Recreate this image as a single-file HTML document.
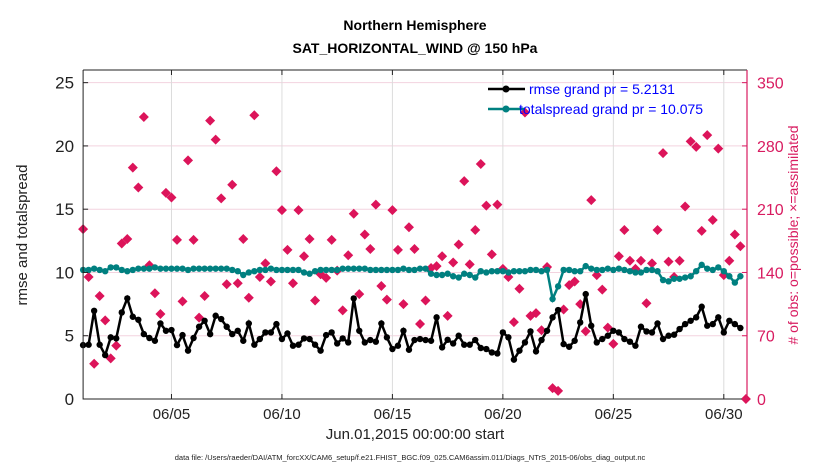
<!DOCTYPE html>
<html><head><meta charset="utf-8"><style>
body{margin:0;background:#fff;}
svg{display:block;font-family:"Liberation Sans",Arial,sans-serif;}
</style></head><body>
<svg id="chart" width="830" height="470">
<text x="415" y="30" text-anchor="middle" font-size="14" font-weight="bold">Northern Hemisphere</text>
<text x="415" y="53" text-anchor="middle" font-size="14" font-weight="bold">SAT_HORIZONTAL_WIND @ 150 hPa</text>
<g id="grid"></g><g id="marks"></g><g id="axes"></g>
<text x="415" y="439" text-anchor="middle" font-size="15" fill="#222">Jun.01,2015 00:00:00 start</text>
<text x="410" y="460" text-anchor="middle" font-size="7.5" fill="#222">data file: /Users/raeder/DAI/ATM_forcXX/CAM6_setup/f.e21.FHIST_BGC.f09_025.CAM6assim.011/Diags_NTrS_2015-06/obs_diag_output.nc</text>
<text transform="translate(27,235) rotate(-90)" text-anchor="middle" font-size="15" fill="#222">rmse and totalspread</text>
<text transform="translate(798,235) rotate(-90)" text-anchor="middle" font-size="14" fill="#d81b60"># of obs: o=possible; ×=assimilated</text>
<g>
<line x1="488" y1="89" x2="525" y2="89" stroke="#000" stroke-width="2.5"/>
<circle cx="506" cy="89" r="3.5" fill="#000"/>
<text x="529" y="94" font-size="14" fill="#0000ff">rmse grand pr = 5.2131</text>
<line x1="488" y1="109" x2="525" y2="109" stroke="#008080" stroke-width="2.5"/>
<circle cx="506" cy="109" r="3.5" fill="#008080"/>
<text x="519" y="114" font-size="14" fill="#0000ff">totalspread grand pr = 10.075</text>
</g>
</svg>
<script>
const rmse=[4.26,4.29,6.97,4.29,3.47,4.87,4.79,6.84,7.95,6.5,6.26,5.13,4.82,4.6,5.97,5.39,5.45,4.26,5.05,3.82,4.82,5.71,6.18,5.13,6.58,6.32,5.71,5.13,5.39,4.6,5.97,4.29,4.74,5.26,5.26,5.92,4.74,5.18,4.21,4.29,4.79,4.74,4.29,3.82,5.05,5.26,4.39,4.79,4.47,7.95,5.39,4.47,4.66,4.53,5.97,4.87,3.95,4.21,
5.39,3.89,4.66,4.74,4.66,4.6,6.45,4.08,4.68,4.39,5.0,4.29,4.29,4.66,4.03,3.95,3.68,3.6,5.26,4.87,3.11,3.82,4.47,5.34,3.76,4.66,5.39,6.45,7.03,4.34,4.13,4.6,6.05,8.29,5.79,4.47,4.74,5.0,5.39,5.26,4.74,4.53,4.21,5.71,5.34,5.26,5.97,4.74,5.0,5.08,5.53,5.92,6.18,6.45,7.29,5.79,5.92,6.45,5.26,6.18,5.92,5.61];
const spread=[10.2,10.2,10.3,10.2,10.1,10.4,10.4,10.2,10.1,10.2,10.3,10.3,10.3,10.4,10.3,10.3,10.3,10.3,10.3,10.2,10.3,10.3,10.3,10.3,10.3,10.3,10.3,10.2,10.1,9.8,10.0,10.1,10.2,10.2,10.3,10.2,10.2,10.2,10.2,10.2,10.0,9.9,10.1,10.2,10.2,10.2,10.2,10.3,10.3,10.3,10.3,10.3,10.2,10.2,10.2,10.2,10.2,10.2,10.3,10.2,10.2,10.3,10.3,9.9,9.8,9.8,9.9,9.7,9.6,9.9,9.8,9.6,10.1,10.0,10.1,10.1,10.1,10.0,10.1,10.1,10.1,10.2,10.2,10.1,10.2,7.9,8.9,10.2,10.2,10.1,10.1,10.5,10.3,10.2,10.2,10.3,10.2,10.3,10.2,10.1,10.0,10.0,10.2,10.2,10.1,9.4,9.3,9.5,9.5,9.6,9.7,10.1,10.6,10.3,10.2,10.4,10.1,9.7,9.2,9.7];
const obsCount=[188,135,39,114,87,45,59,172,177,256,234,312,148,117,94,228,223,176,108,264,176,90,114,308,287,222,127,237,128,177,112,314,135,150,130,252,209,165,128,209,158,177,109,138,134,176,142,98,159,205,116,182,166,215,125,110,209,165,105,190,166,83,109,145,147,158,92,151,171,241,149,187,260,214,160,215,144,135,85,122,317,92,95,76,146,12,9,99,126,130,105,75,220,137,121,79,61,158,187,153,144,153,106,150,187,272,152,135,153,213,285,279,186,292,198,277,137,153,182,169,0];
const xTickDays=[4,9,14,19,24,29];
const xTickLabels=["06/05","06/10","06/15","06/20","06/25","06/30"];
const yTicks=[0,5,10,15,20,25];
const yTicksRight=[0,70,140,210,280,350];

const L=83.1,R=747,T=70,B=399;
const X=d=>L+(d/30.05)*(R-L);
const Y=v=>B-(v/26)*(B-T);
const YR=v=>B-(v/364)*(B-T);
const ns="http://www.w3.org/2000/svg";
function mk(tag,parent,attrs){const e=document.createElementNS(ns,tag);for(const k in attrs)e.setAttribute(k,attrs[k]);parent.appendChild(e);return e;}
const grid=document.getElementById('grid'),marks=document.getElementById('marks'),axes=document.getElementById('axes');
yTicks.forEach(v=>{if(v>0){const g=mk('line',grid,{x1:L,x2:R,y1:Y(v),y2:Y(v),stroke:'#f3d3df','stroke-width':1});

}});
xTickDays.forEach(d=>{const g=mk('line',grid,{x1:X(d),x2:X(d),y1:T,y2:B,stroke:'#dcdcdc','stroke-width':1});

});
obsCount.forEach((c,i)=>{const x=X(i*0.25),y=YR(c);
const p=mk('path',marks,{d:`M${x-5},${y}L${x},${y-5}L${x+5},${y}L${x},${y+5}Z`,fill:'#dc145a'});

});
function series(arr,col,name){
const pts=arr.map((v,i)=>X(i*0.25)+','+Y(v)).join(' ');
const pl=mk('polyline',marks,{points:pts,fill:'none',stroke:col,'stroke-width':2.5});


arr.forEach((v,i)=>{const c=mk('circle',marks,{cx:X(i*0.25),cy:Y(v),r:3.2,fill:col});

});}
series(spread,'#008080','totalspread');
series(rmse,'#000','rmse');
const ax=mk('path',axes,{d:`M${L},${T}V${B}H${R}M${L},${T}H${R}`,stroke:'#222',fill:'none','stroke-width':1});


const ra=mk('line',axes,{x1:R,x2:R,y1:T,y2:B,stroke:'#d81b60','stroke-width':1.2});


yTicks.forEach(v=>{mk('line',axes,{x1:L,x2:L+5,y1:Y(v),y2:Y(v),stroke:'#222'});
const t=mk('text',axes,{x:L-9,y:Y(v)+6,'text-anchor':'end','font-size':17,fill:'#222'});t.textContent=v;

});
yTicksRight.forEach(v=>{mk('line',axes,{x1:R-5,x2:R,y1:YR(v),y2:YR(v),stroke:'#d81b60'});
const t=mk('text',axes,{x:R+10,y:YR(v)+6,'font-size':16,fill:'#d81b60'});t.textContent=v;

});
xTickDays.forEach((d,i)=>{mk('line',axes,{x1:X(d),x2:X(d),y1:B,y2:B-5,stroke:'#222'});mk('line',axes,{x1:X(d),x2:X(d),y1:T,y2:T+5,stroke:'#222'});
const t=mk('text',axes,{x:X(d),y:B+20,'text-anchor':'middle','font-size':15,fill:'#222'});t.textContent=xTickLabels[i];

});
</script>
</body></html>
